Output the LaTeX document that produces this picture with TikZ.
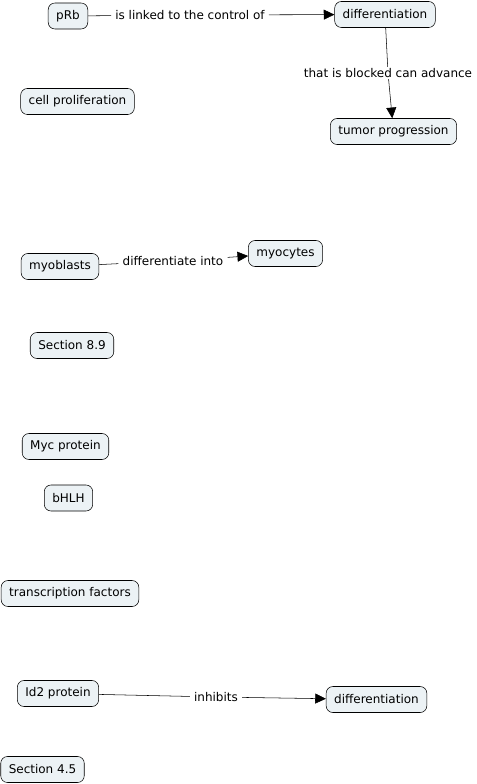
\documentclass[tikz,border=0pt]{standalone}
\usepackage{fontspec}
\setmainfont{DejaVu Sans}
\usetikzlibrary{arrows.meta}

\begin{document}
\begin{tikzpicture}[x=0.75pt, y=-0.75pt, every node/.style={font=\fontsize{9}{11}\selectfont}]
            \tikzstyle{concept}=[rectangle, rounded corners=5pt, draw, fill=boxfill, text=black, minimum height=19.5pt, inner xsep=6pt, inner ysep=0pt]
            \tikzstyle{linkname}=[fill=white, inner xsep=3pt, inner ysep=1pt]
            \tikzstyle{link}=[draw, thin]
            \tikzstyle{linkto}=[draw, thin, -{Triangle[length=8pt, width=7.5pt]}]
            \definecolor{boxfill}{RGB}{236,242,245}

            \useasboundingbox (0,0) rectangle (476,784);

            \node[concept] (prb) at (68,16) {pRb};
            \node[concept] (diff) at (385,14.5) {differentiation};
            \node[concept] (cellpro) at (77.5,101.5) {cell proliferation};
            \node[concept] (tumor) at (393.5,131.5) {tumor progression};
            \node[concept] (myoblasts) at (60,266.5) {myoblasts};
            \node[concept] (myocytes) at (285.5,253.5) {myocytes};
            \node[concept] (sec89) at (72,345.5) {Section 8.9};
            \node[concept] (myc) at (65.5,446.5) {Myc protein};
            \node[concept] (bhlh) at (68.5,498) {bHLH};
            \node[concept] (tfactors) at (70,593.5) {transcription factors};
            \node[concept] (id2) at (58,693.5) {Id2 protein};
            \node[concept] (diffb) at (376.5,699.5) {differentiation};
            \node[concept] (sec45) at (42.5,769.5) {Section 4.5};

            \node[linkname] (linked) at (190,15) {is linked to the control of};
            \node[linkname] (blocked) at (388,73) {that is blocked can advance};
            \node[linkname] (diffinto) at (173,261) {differentiate into};
            \node[linkname] (inhibits) at (216,697) {inhibits};

            \draw[link] (prb) -- (linked);
            \draw[linkto] (linked) -- (diff);
            \draw[link] (diff) -- (blocked);
            \draw[linkto] (blocked) -- (tumor);
            \draw[link] (myoblasts) -- (diffinto);
            \draw[linkto] (diffinto) -- (myocytes);
            \draw[link] (id2) -- (inhibits);
            \draw[linkto] (inhibits) -- (diffb);
        \end{tikzpicture}
\end{document}
